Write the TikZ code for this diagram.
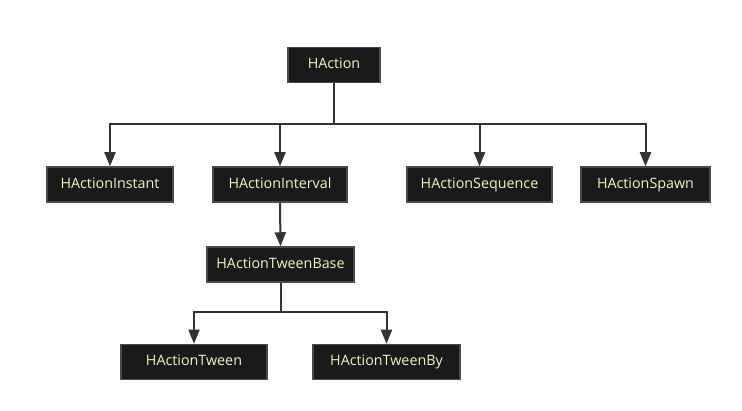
\documentclass[tikz,border=0pt]{standalone}
\usepackage{fontspec}
\setmainfont{Open Sans}
\usetikzlibrary{arrows.meta}

\definecolor{boxfill}{HTML}{1A1A1A}
\definecolor{boxline}{HTML}{4A4A4A}
\definecolor{boxtext}{HTML}{F4F1C2}
\definecolor{linkline}{HTML}{333333}

\tikzset{
  classbox/.style={draw=boxline,line width=1.5pt,fill=boxfill,text=boxtext,
    font=\fontsize{14.3pt}{16pt}\selectfont,minimum height=35pt,
    text height=10.5pt,text depth=2.5pt,inner xsep=0pt},
  link/.style={draw=linkline,line width=2pt,
    -{Triangle[width=11pt,length=14pt]}},
  busline/.style={draw=linkline,line width=2pt}
}

\begin{document}
\begin{tikzpicture}[x=1pt,y=-1pt]
  \useasboundingbox (0,0) rectangle (742,411);
  \fill[white] (0,0) rectangle (742,411);

  % class boxes
  \node[classbox,minimum width=92pt]  (haction)   at (334,65)    {HAction};
  \node[classbox,minimum width=126pt] (instant)   at (110,184.5) {HActionInstant};
  \node[classbox,minimum width=134pt] (interval)  at (280,184.5) {HActionInterval};
  \node[classbox,minimum width=145pt] (sequence)  at (479.5,184.5) {HActionSequence};
  \node[classbox,minimum width=129pt] (spawn)     at (645.5,184.5) {HActionSpawn};
  \node[classbox,minimum width=147pt] (tweenbase) at (280.5,264.5) {HActionTweenBase};
  \node[classbox,minimum width=146pt] (tween)     at (194,362)   {HActionTween};
  \node[classbox,minimum width=147pt] (tweenby)   at (386.5,362) {HActionTweenBy};

  % connectors
  \coordinate (bustop) at (334,124);
  \coordinate (buslow) at (280.5,312);
  \draw[busline] (haction.south) -- (bustop);
  \draw[link] (bustop) -| (instant.north);
  \draw[link] (bustop) -| (interval.north);
  \draw[link] (bustop) -| (sequence.north);
  \draw[link] (bustop) -| (spawn.north);
  \draw[link] (interval.south) -- (tweenbase.north);
  \draw[busline] (tweenbase.south) -- (buslow);
  \draw[link] (buslow) -| (tween.north);
  \draw[link] (buslow) -| (tweenby.north);
\end{tikzpicture}
\end{document}
